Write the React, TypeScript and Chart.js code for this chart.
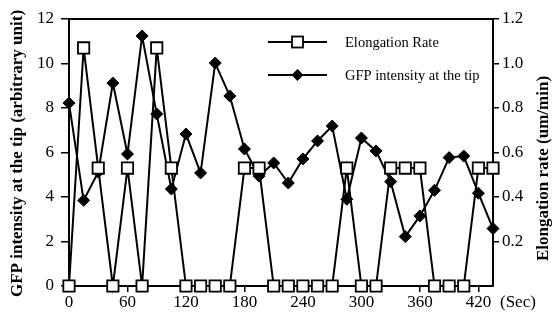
import React, { useEffect, useRef } from 'react';
import { Chart, registerables } from 'chart.js';

Chart.register(...registerables);

// ---- data ----
const timeSec = [0, 15, 30, 45, 60, 75, 90, 105, 120, 135, 150, 165, 180, 195, 210, 225, 240, 255, 270, 285, 300, 315, 330, 345, 360, 375, 390, 405, 420, 435];
const elongationRate = [0, 1.07, 0.53, 0, 0.53, 0, 1.07, 0.53, 0, 0, 0, 0, 0.53, 0.53, 0, 0, 0, 0, 0, 0.53, 0, 0, 0.53, 0.53, 0.53, 0, 0, 0, 0.53, 0.53];
const gfpIntensity = [8.22, 3.85, 5.12, 9.12, 5.93, 11.24, 7.73, 4.36, 6.83, 5.08, 10.02, 8.54, 6.16, 4.94, 5.53, 4.63, 5.71, 6.52, 7.19, 3.9, 6.65, 6.07, 4.69, 2.22, 3.15, 4.3, 5.77, 5.84, 4.17, 2.58];
const xTicks = [0, 60, 120, 180, 240, 300, 360, 420];
const leftTicks = [0, 2, 4, 6, 8, 10, 12];
const rightTicks = [0.2, 0.4, 0.6, 0.8, 1.0, 1.2];
const seriesLabels = ['Elongation Rate', 'GFP intensity at the tip'];
const leftTitle = 'GFP intensity at the tip (arbitrary unit)';
const rightTitle = 'Elongation rate (um/min)';
const xUnit = '(Sec)';

const SERIF = '"Liberation Serif", "Times New Roman", serif';

const overlayPlugin = {
  id: 'overlay',
  afterDraw(chart: any) {
    const { ctx, chartArea } = chart;
    ctx.save();
    ctx.strokeStyle = '#000';
    ctx.fillStyle = '#000';
    // top frame line
    ctx.lineWidth = 2;
    ctx.beginPath();
    ctx.moveTo(chartArea.left, chartArea.top);
    ctx.lineTo(chartArea.right, chartArea.top);
    ctx.stroke();

    // legend
    const lx0 = chartArea.left + 199;
    const lx1 = lx0 + 59;
    const mx = (lx0 + lx1) / 2;
    const ly0 = chartArea.top + 23;
    const gap = 33;
    ctx.font = `14.5px ${SERIF}`;
    ctx.textBaseline = 'middle';
    ctx.textAlign = 'left';
    chart.data.datasets.forEach((ds: any, i: number) => {
      const y = ly0 + i * gap;
      ctx.lineWidth = 2;
      ctx.strokeStyle = '#000';
      ctx.beginPath();
      ctx.moveTo(lx0, y);
      ctx.lineTo(lx1, y);
      ctx.stroke();
      if (ds.pointStyle === 'rect') {
        const s = 5.5;
        ctx.fillStyle = '#fff';
        ctx.fillRect(mx - s, y - s, 2 * s, 2 * s);
        ctx.lineWidth = 1.8;
        ctx.strokeRect(mx - s, y - s, 2 * s, 2 * s);
      } else {
        const r = 6;
        ctx.fillStyle = '#000';
        ctx.beginPath();
        ctx.moveTo(mx, y - r);
        ctx.lineTo(mx + r, y);
        ctx.lineTo(mx, y + r);
        ctx.lineTo(mx - r, y);
        ctx.closePath();
        ctx.fill();
      }
      ctx.fillStyle = '#000';
      ctx.fillText(ds.label, lx1 + 18, y + 1);
    });

    // axis titles (both read bottom-to-top)
    ctx.font = `bold 17px ${SERIF}`;
    ctx.textAlign = 'center';
    ctx.textBaseline = 'middle';
    const drawVertical = (text: string, x: number, y: number) => {
      ctx.save();
      ctx.translate(x, y);
      ctx.rotate(-Math.PI / 2);
      ctx.fillText(text, 0, 0);
      ctx.restore();
    };
    drawVertical(leftTitle, 18, (chartArea.top + chartArea.bottom) / 2 + 1);
    drawVertical(rightTitle, chart.width - 9, (chartArea.top + chartArea.bottom) / 2 + 16);

    // x unit label
    ctx.font = `17px ${SERIF}`;
    ctx.textAlign = 'left';
    ctx.textBaseline = 'middle';
    ctx.fillText(xUnit, chartArea.right + 7, chart.scales.x.top + 17);
    ctx.restore();
  },
};

export default function App() {
  const canvasRef = useRef<HTMLCanvasElement | null>(null);

  useEffect(() => {
    document.body.style.margin = '0';
    const canvas = canvasRef.current;
    if (!canvas) return;
    const tickFont = { family: SERIF, size: 17 };
    const chart = new Chart(canvas, {
      type: 'line',
      data: {
        datasets: [
          {
            label: seriesLabels[0],
            data: timeSec.map((t, i) => ({ x: t, y: elongationRate[i] })),
            yAxisID: 'yR',
            borderColor: '#000',
            borderWidth: 2,
            backgroundColor: '#fff',
            pointStyle: 'rect',
            pointRadius: 8,
            pointBorderWidth: 1.8,
            pointBackgroundColor: '#fff',
            pointBorderColor: '#000',
            tension: 0,
            clip: false as any,
          },
          {
            label: seriesLabels[1],
            data: timeSec.map((t, i) => ({ x: t, y: gfpIntensity[i] })),
            yAxisID: 'yL',
            borderColor: '#000',
            borderWidth: 2,
            backgroundColor: '#000',
            pointStyle: 'rectRot',
            pointRadius: 6,
            pointBorderWidth: 1,
            pointBackgroundColor: '#000',
            pointBorderColor: '#000',
            tension: 0,
            clip: false as any,
          },
        ],
      },
      options: {
        responsive: false,
        animation: false,
        layout: { padding: { top: 19, left: 0, right: 0, bottom: 0 } },
        plugins: {
          legend: { display: false },
          tooltip: { enabled: false },
        },
        scales: {
          x: {
            type: 'linear',
            position: 'bottom',
            min: 0,
            max: 435,
            afterBuildTicks: (s: any) => {
              s.ticks = xTicks.map((v) => ({ value: v }));
            },
            afterFit: (s: any) => {
              s.height = 26;
            },
            grid: { drawOnChartArea: false, drawTicks: true, tickLength: 6, color: '#000', lineWidth: 1.5 },
            border: { display: true, color: '#000', width: 2 },
            ticks: { color: '#000', font: tickFont, padding: 0, maxRotation: 0, autoSkip: false },
          },
          yL: {
            type: 'linear',
            position: 'left',
            min: 0,
            max: 12,
            afterBuildTicks: (s: any) => {
              s.ticks = leftTicks.map((v) => ({ value: v }));
            },
            afterFit: (s: any) => {
              s.width = 69;
            },
            grid: { drawOnChartArea: false, drawTicks: true, tickLength: 8, color: '#000', lineWidth: 1.5 },
            border: { display: true, color: '#000', width: 2 },
            ticks: { color: '#000', font: tickFont, padding: 7, autoSkip: false },
          },
          yR: {
            type: 'linear',
            position: 'right',
            min: 0,
            max: 1.2,
            afterBuildTicks: (s: any) => {
              s.ticks = rightTicks.map((v) => ({ value: v }));
            },
            afterFit: (s: any) => {
              s.width = 60;
            },
            grid: { drawOnChartArea: false, drawTicks: true, tickLength: 6, color: '#000', lineWidth: 1.5 },
            border: { display: true, color: '#000', width: 2 },
            ticks: {
              color: '#000',
              font: tickFont,
              padding: 3,
              autoSkip: false,
              callback: (v: any) => Number(v).toFixed(1),
            },
          },
        },
      },
      plugins: [overlayPlugin],
    });
    return () => chart.destroy();
  }, []);

  return (
    <div style={{ position: 'absolute', left: 0, top: 0, width: 553, height: 312, background: '#fff' }}>
      <canvas ref={canvasRef} width={553} height={312} style={{ display: 'block' }} />
    </div>
  );
}
